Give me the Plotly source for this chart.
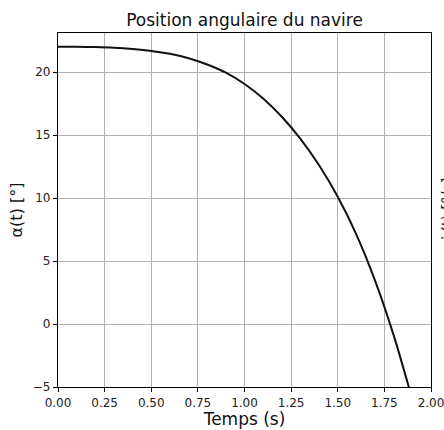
import plotly.graph_objects as go

# Data
temps = [0.0, 0.1, 0.2, 0.3, 0.4, 0.5, 0.6, 0.7, 0.8, 0.9, 1.0, 1.1, 1.2,
         1.3, 1.4, 1.5, 1.6, 1.7, 1.8, 1.9]
alpha = [22.0, 22.0, 21.98, 21.93, 21.83, 21.68, 21.45, 21.1, 20.6, 19.95,
         19.05, 17.9, 16.45, 14.7, 12.6, 10.1, 7.1, 3.45, -0.9, -6.0]

x_ticks = [0.0, 0.25, 0.5, 0.75, 1.0, 1.25, 1.5, 1.75, 2.0]
y_ticks = [-5, 0, 5, 10, 15, 20]

FONT = "DejaVu Sans"

fig = go.Figure()
fig.add_trace(go.Scatter(x=temps, y=alpha, mode="lines",
                         line=dict(color="#111111", width=2, shape="spline",
                                   smoothing=0.8),
                         hoverinfo="skip", showlegend=False))

axis_common = dict(showline=True, linecolor="black", linewidth=1.2, mirror=True,
                   ticks="outside", ticklen=4, tickwidth=1, tickcolor="black",
                   showgrid=True, gridcolor="#b0b0b0", gridwidth=1,
                   zeroline=False, automargin=False, ticklabeloverflow="allow",
                   tickfont=dict(family=FONT, size=12, color="#222"))

fig.update_xaxes(range=[0, 2.0], tickvals=x_ticks, tickformat=".2f",
                 title=dict(text="Temps (s)", font=dict(family=FONT, size=17, color="#111"),
                            standoff=0),
                 **axis_common)
fig.update_yaxes(range=[-5, 23.1], tickvals=y_ticks,
                 title=dict(text="α(t) [°]", font=dict(family=FONT, size=16, color="#111"),
                            standoff=6),
                 **axis_common)

fig.update_layout(
    width=444, height=430,
    margin=dict(l=58, r=13, t=33, b=43),
    paper_bgcolor="white", plot_bgcolor="white",
    font=dict(family=FONT),
    title=dict(text="Position angulaire du navire", x=0.5, xref="paper",
               y=1 - 20 / 430, yref="container", yanchor="middle",
               font=dict(family=FONT, size=17, color="#111")),
)

# Partially visible label of a neighbouring subplot at the right edge
fig.add_annotation(text="α̇(t) [°/s]", xref="paper", yref="paper",
                   x=1 + (459 - 431) / (431 - 58), y=0.5,
                   textangle=-90, showarrow=False,
                   font=dict(family=FONT, size=15, color="#111"))

fig.write_html("out.html",
               config={"displayModeBar": False},
               post_script="document.body.style.margin='0';"
                           "document.body.style.overflow='hidden';")
